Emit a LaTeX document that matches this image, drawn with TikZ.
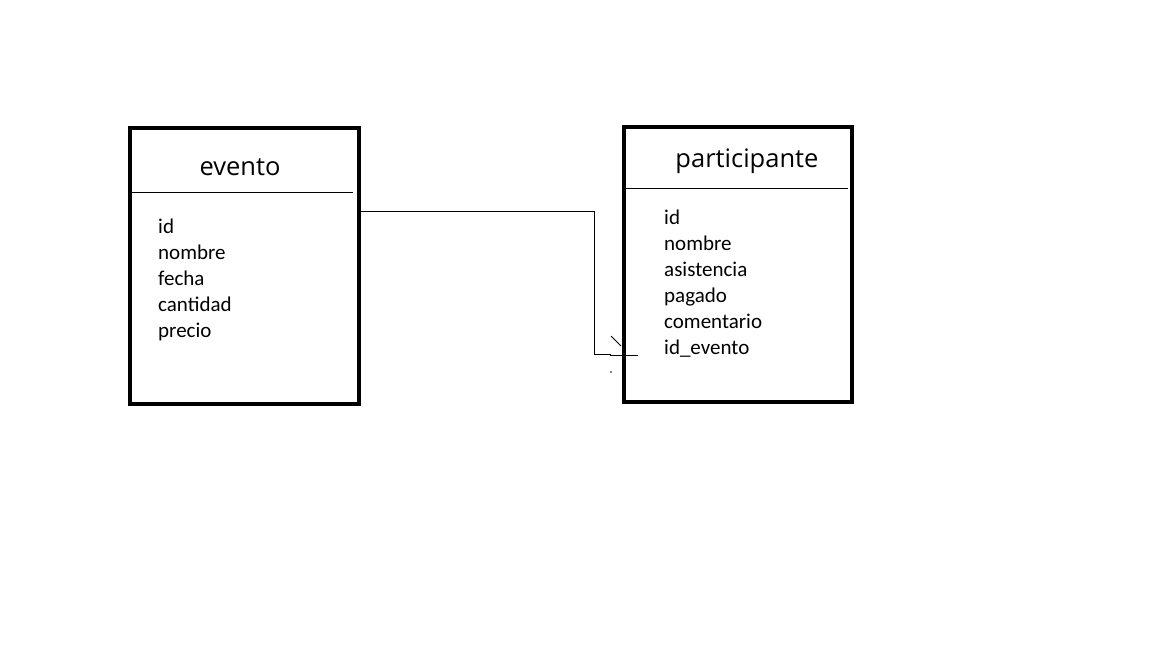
\documentclass[tikz,border=0pt]{standalone}
\usepackage{fontspec}
\setmainfont{Carlito}
\newfontfamily\titlefont{Open Sans}
\begin{document}
\begin{tikzpicture}[x=1pt,y=-1pt,
  entity/.style={draw,line width=4pt,inner sep=0pt,outer sep=0pt},
  sep/.style={line width=1pt},
  attr/.style={anchor=west,inner sep=0pt,font=\fontsize{21}{24}\selectfont,text height=0.7em,text depth=0.2em},
  ttl/.style={inner sep=0pt,font=\titlefont\fontsize{25.5}{28}\selectfont},
  conn/.style={line width=1pt}]
\useasboundingbox (0,0) rectangle (1152,648);
% evento
\node[entity,minimum width=229.5pt,minimum height=276.5pt] (evento) at (244.25,265.75) {};
\node[ttl] (tev) at (240,167) {evento};
\draw[sep] (131,192) -- (353,192);
\node[attr] (e1) at (158,231) {id};
\node[attr] (e2) at (158,257) {nombre};
\node[attr] (e3) at (158,283) {fecha};
\node[attr] (e4) at (158,309) {cantidad};
\node[attr] (e5) at (158,335) {precio};
% participante
\node[entity,minimum width=228pt,minimum height=275pt] (part) at (737.5,264) {};
\node[ttl] (tpa) at (747,161) {participante};
\draw[sep] (626,188) -- (848,188);
\node[attr] (p1) at (664,222) {id};
\node[attr] (p2) at (664,248) {nombre};
\node[attr] (p3) at (664,274) {asistencia};
\node[attr] (p4) at (664,300) {pagado};
\node[attr] (p5) at (664,326) {comentario};
\node[attr] (p6) at (664,352) {id\_evento};
% connector
\coordinate (k1) at (594,211);
\coordinate (k2) at (594,354);
\coordinate (fk) at (638,355);
\draw[conn] (evento.east |- k1) -- (k1) -- (k2) -- (610,354) -- (610,355) -- (fk);
\draw[line width=0.8pt] (611,336) -- (621,346);
\fill (611,372) circle (0.8pt);
\end{tikzpicture}
\end{document}
